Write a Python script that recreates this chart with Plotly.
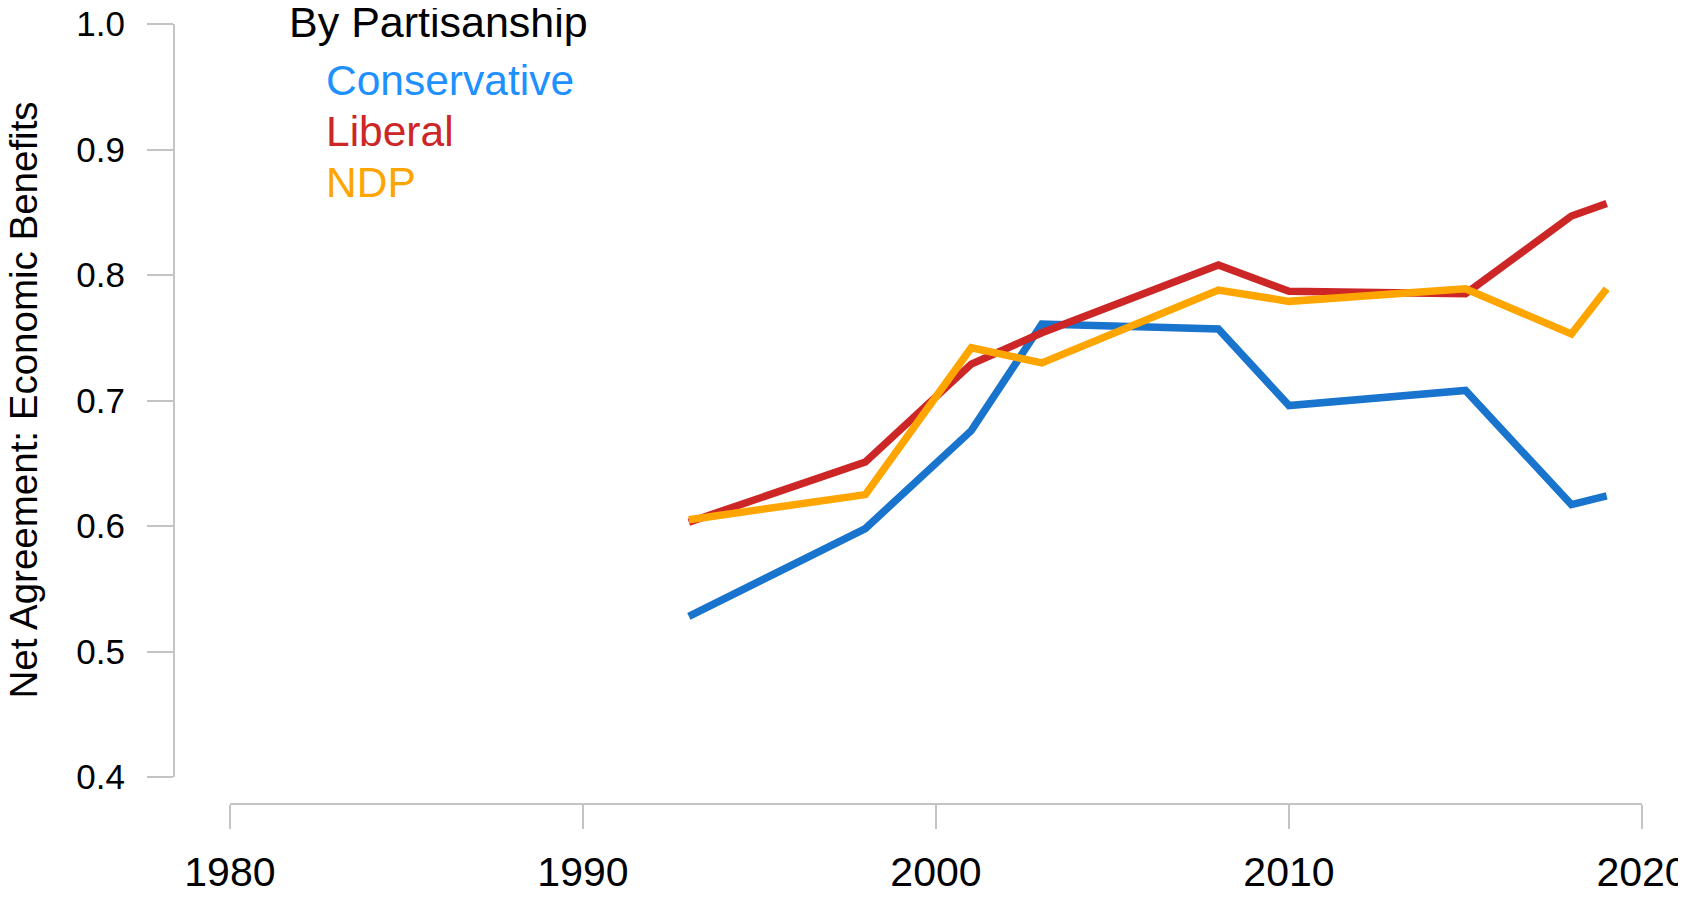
import plotly.graph_objects as go

# ---- data ----
years = [1993, 1998, 2001, 2003, 2008, 2010, 2015, 2018, 2019]
conservative = [0.528, 0.598, 0.676, 0.761, 0.757, 0.696, 0.708, 0.617, 0.624]
liberal = [0.603, 0.651, 0.729, 0.754, 0.808, 0.787, 0.785, 0.847, 0.857]
ndp = [0.605, 0.625, 0.742, 0.730, 0.788, 0.779, 0.789, 0.753, 0.789]

x_ticks = [1980, 1990, 2000, 2010, 2020]
y_ticks = [0.4, 0.5, 0.6, 0.7, 0.8, 0.9, 1.0]

series_names = ["Conservative", "Liberal", "NDP"]
line_colors = ["#1874CD", "#CD2626", "#FFA500"]
label_colors = ["#1E90FF", "#CD2626", "#FFA500"]
y_title = "Net Agreement: Economic Benefits"

FONT = "Liberation Sans, Arial, Helvetica, sans-serif"
AXIS_GRAY = "#C4C4C4"

fig = go.Figure()
for name, vals, col in zip(series_names, [conservative, liberal, ndp], line_colors):
    fig.add_trace(go.Scatter(x=years, y=vals, mode="lines", name=name,
                             line=dict(color=col, width=7.5),
                             showlegend=False))

# legend-like text labels
fig.add_annotation(text="By Partisanship", xref="paper", yref="paper",
                   x=0.077, y=1.0025, xanchor="left", yanchor="middle",
                   showarrow=False, font=dict(size=43, color="black", family=FONT))
label_y = [0.927, 0.8626, 0.7964]
for name, col, yy in zip(series_names, label_colors, label_y):
    fig.add_annotation(text=name, xref="paper", yref="paper",
                       x=0.1022, y=yy, xanchor="left", yanchor="middle",
                       showarrow=False, font=dict(size=42.5, color=col, family=FONT))

# y-axis title placed as rotated text
fig.add_annotation(text=y_title, xref="paper", yref="paper",
                   x=-0.1022, y=0.5186, xanchor="center", yanchor="middle",
                   textangle=-90, showarrow=False,
                   font=dict(size=38.5, color="black", family=FONT))

fig.update_layout(
    template="none",
    width=1678, height=889,
    margin=dict(l=166, r=44, t=16, b=93, pad=0),
    plot_bgcolor="white", paper_bgcolor="white",
    font=dict(family=FONT, color="black"),
    xaxis=dict(domain=[0.0381, 1], range=[1980, 2020], anchor="free", position=0,
               automargin=False, ticklabeloverflow="allow",
               tickvals=x_ticks, ticks="outside", ticklen=24, tickwidth=2,
               tickcolor=AXIS_GRAY, showline=True, linecolor=AXIS_GRAY, linewidth=2,
               showgrid=False, zeroline=False, tickfont=dict(size=41),
               ticklabelstandoff=8),
    yaxis=dict(domain=[0.0346, 1], range=[0.4, 1.0], anchor="free", position=0,
               automargin=False, ticklabeloverflow="allow",
               tickvals=y_ticks, tickformat=".1f", ticks="outside", ticklen=26,
               tickwidth=2, tickcolor=AXIS_GRAY, showline=True, linecolor=AXIS_GRAY,
               linewidth=2, showgrid=False, zeroline=False, tickfont=dict(size=35),
               ticklabelstandoff=15),
)

fig.write_html("out.html")
